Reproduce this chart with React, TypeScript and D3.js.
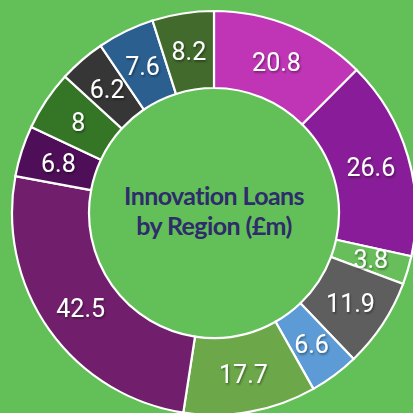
import React from "react";
import * as d3 from "d3";

const regions = ["R1", "R2", "R3", "R4", "R5", "R6", "R7", "R8", "R9", "R10", "R11", "R12"];
const values = [20.8, 26.6, 3.8, 11.9, 6.6, 17.7, 42.5, 6.8, 8, 6.2, 7.6, 8.2];
const labels = ["20.8", "26.6", "3.8", "11.9", "6.6", "17.7", "42.5", "6.8", "8", "6.2", "7.6", "8.2"];
const colors = ["#bf35b6", "#891c98", "#68be5a", "#5e5e5e", "#5c9bd5", "#6ca84a", "#711f6c", "#4e0e58", "#347626", "#363636", "#2a5f90", "#426a2c"];
const titleLines = ["Innovation Loans", "by Region (£m)"];

export default function App() {
  const W = 413, H = 413;
  const cx = 214, cy = 213;
  const rOuter = 202, rInner = 125;
  const pie = d3.pie<number>().sort(null).value((d) => d)(values);
  const arc = d3.arc<d3.PieArcDatum<number>>().innerRadius(rInner).outerRadius(rOuter);
  return (
    <svg width={W} height={H} style={{ position: "fixed", left: 0, top: 0 }}>
      <defs>
        <filter id="sh" x="-20%" y="-20%" width="140%" height="140%">
          <feDropShadow dx="1" dy="1.5" stdDeviation="1" floodColor="#000" floodOpacity="0.45" />
        </filter>
      </defs>
      <rect width={W} height={H} fill="#63bf58" />
      <g transform={`translate(${cx},${cy})`}>
        {pie.map((p, i) => (
          <path key={regions[i]} d={arc(p) || ""} fill={colors[i]} stroke="#fff" strokeWidth={2.2} />
        ))}
        {pie.map((p, i) => {
          const [x, y] = arc.centroid(p);
          return (
            <text key={"l" + i} x={x} y={y} dy="0.36em" textAnchor="middle" fill="#fff"
              fontFamily="Roboto, sans-serif" fontSize={25} filter="url(#sh)">
              {labels[i]}
            </text>
          );
        })}
        {titleLines.map((t, i) => (
          <text key={"t" + i} x={0} y={-17 + i * 30} dy="0.35em" textAnchor="middle" fill="#2e2c6a"
            fontFamily="Lato, sans-serif" fontWeight="bold" fontSize={25} letterSpacing={-0.6}>
            {t}
          </text>
        ))}
      </g>
    </svg>
  );
}
